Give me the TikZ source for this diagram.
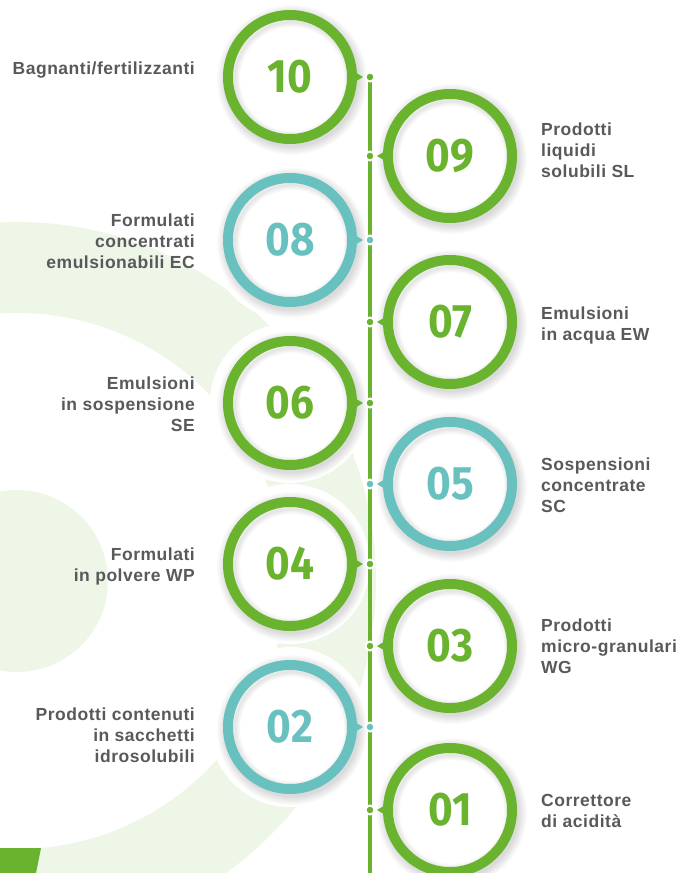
\documentclass[tikz,border=0pt]{standalone}
\usepackage{fontspec}
\usetikzlibrary{calc}
\setmainfont{Liberation Sans}
\newfontfamily\labelfont{Liberation Sans}[LetterSpace=3]
\newfontfamily\numfont{Fira Sans}[FakeStretch=0.9]

\definecolor{leaf}{RGB}{106,179,46}
\definecolor{aqua}{RGB}{104,193,190}
\definecolor{tint}{RGB}{238,246,232}
\definecolor{ink}{RGB}{88,89,91}

\tikzset{
  ringnode/.style={circle, draw=#1, line width=10pt, minimum size=124pt, inner sep=0pt,
    text=#1, font=\numfont\bfseries\fontsize{47}{47}\selectfont},
  dotnode/.style={circle, fill=#1, draw=white, line width=2pt, minimum size=9pt, inner sep=0pt},
  lefttext/.style={anchor=north east, align=right, inner sep=0pt, text=ink,
    font=\labelfont\bfseries\fontsize{17.5}{21}\selectfont},
  righttext/.style={lefttext, anchor=north west, align=left},
  spine/.style={leaf, line width=4.5pt},
  halo/.style={white},
}

% one numbered medallion: name, x, y, colour
\newcommand{\medallion}[4]{%
  \foreach \i in {1,...,9}
    \fill[black, opacity=0.016] (#2+2,#3+3) circle[radius={(66+\i)*1pt}];
  \fill[white] (#2,#3) circle[radius=62pt];
  \begin{scope}
    \clip (#2,#3) circle[radius=57pt];
    \foreach \w in {2pt,4pt,6pt,8pt,10pt}
      \draw[black, opacity=0.02, line width=\w] (#2+2,#3+2) circle[radius=57pt];
  \end{scope}
  \node[ringnode=#4] (c#1) at (#2,#3) {#1};
}

\begin{document}
\begin{tikzpicture}[x=1pt, y=-1pt]
\useasboundingbox (0,0) rectangle (682,873);

% pale background ring and disc
\begin{scope}
  \clip (0,0) rectangle (682,873);
  \fill[tint, even odd rule] (17,581) circle[radius=359pt] (17,581) circle[radius=268pt];
  \fill[tint] (17,581) circle[radius=91pt];
\end{scope}
\fill[leaf] (0,848) -- (41,848) -- (36,873) -- (0,873) -- cycle;

% white clearance around every medallion
\foreach \px/\py in {290/77, 450/156, 290/240, 450/322, 290/403,
                     450/484, 290/564, 450/646, 290/727, 450/810}
  \fill[halo] (\px,\py) circle[radius=80pt];

% medallions
\medallion{10}{290}{77}{leaf}
\medallion{09}{450}{156}{leaf}
\medallion{08}{290}{240}{aqua}
\medallion{07}{450}{322}{leaf}
\medallion{06}{290}{403}{leaf}
\medallion{05}{450}{484}{aqua}
\medallion{04}{290}{564}{leaf}
\medallion{03}{450}{646}{leaf}
\medallion{02}{290}{727}{aqua}
\medallion{01}{450}{810}{leaf}

% timeline spine
\coordinate (p10) at (370,77);
\coordinate (spineend) at (370,873);
\draw[spine] (p10) -- (spineend);

% pointers from the left medallions
\foreach \n/\col in {10/leaf, 08/aqua, 06/leaf, 04/leaf, 02/aqua}
  \fill[\col] ($(c\n.east)+(-4,-6)$) -- ($(c\n.east)+(6,0)$) -- ($(c\n.east)+(-4,6)$) -- cycle;
% pointers from the right medallions
\foreach \n/\col in {09/leaf, 07/leaf, 05/aqua, 03/leaf, 01/leaf}
  \fill[\col] ($(c\n.west)+(4,-6)$) -- ($(c\n.west)+(-6,0)$) -- ($(c\n.west)+(4,6)$) -- cycle;

% joints on the spine
\foreach \n/\col in {10/leaf, 09/leaf, 08/aqua, 07/leaf, 06/leaf,
                     05/aqua, 04/leaf, 03/leaf, 02/aqua, 01/leaf}
  \node[dotnode=\col] (d\n) at (370,{0} |- c\n) {};

% labels
\node[lefttext] (t10) at (195,61.6) {Bagnanti/fertilizzanti};
\node[lefttext] (t08) at (195,213.6) {Formulati\\concentrati\\emulsionabili EC};
\node[lefttext] (t06) at (195,376.6) {Emulsioni\\in sospensione\\SE};
\node[lefttext] (t04) at (195,548) {Formulati\\in polvere WP};
\node[lefttext] (t02) at (195,707.6) {Prodotti contenuti\\in sacchetti\\idrosolubili};

\node[righttext] (t09) at (541,122.6) {Prodotti\\liquidi\\solubili SL};
\node[righttext] (t07) at (541,306.6) {Emulsioni\\in acqua EW};
\node[righttext] (t05) at (541,457.6) {Sospensioni\\concentrate\\SC};
\node[righttext] (t03) at (541,618.6) {Prodotti\\micro-granulari\\WG};
\node[righttext] (t01) at (541,794) {Correttore\\di acidità};
\end{tikzpicture}
\end{document}
